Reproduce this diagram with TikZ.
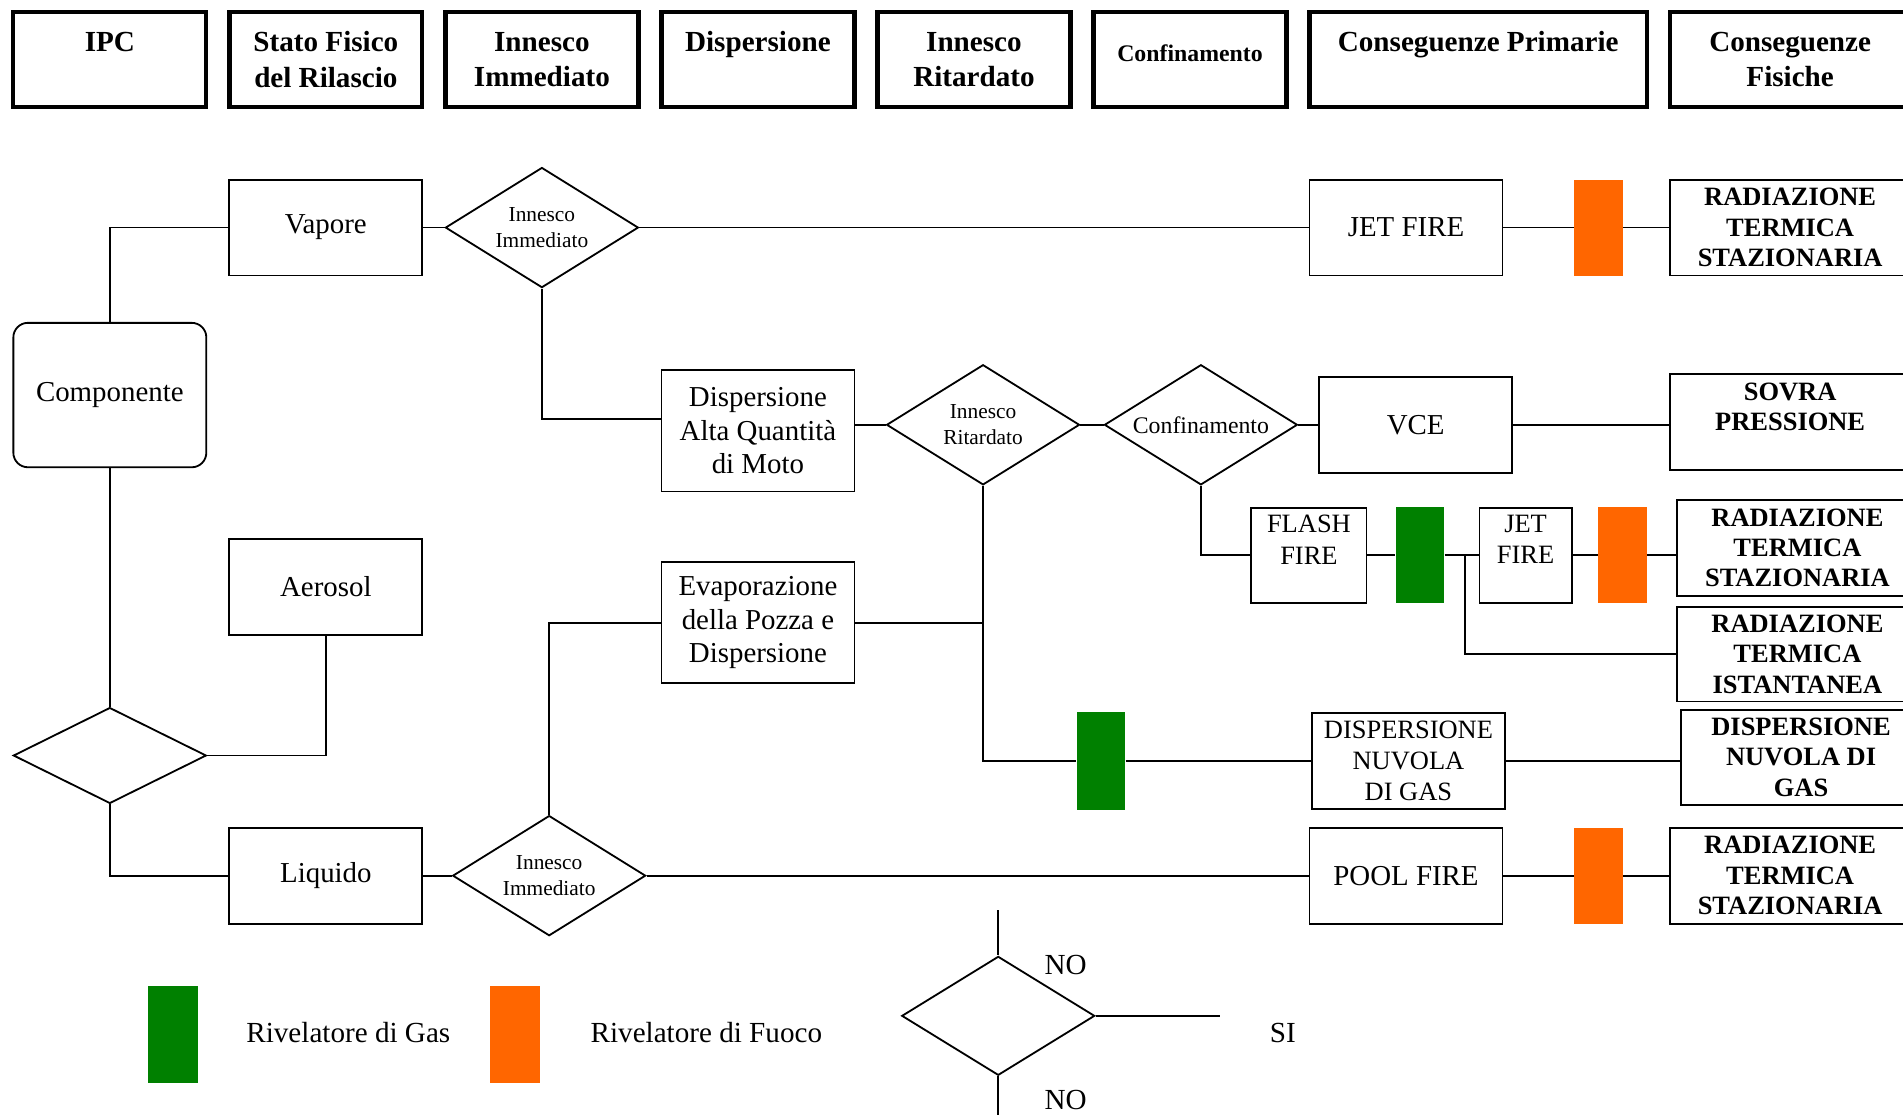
\documentclass[tikz,border=0pt]{standalone}
\usepackage{fontspec}
\setmainfont{Liberation Serif}
\usepackage{tikz}
\usetikzlibrary{positioning,shapes,arrows}

\definecolor{gasgreen}{RGB}{0,128,0}
\definecolor{fireorange}{RGB}{255,102,0}

\tikzset{
  hdr/.style={draw, line width=1.75pt, minimum width=79.5pt, minimum height=39pt, inner sep=0pt, align=center, font=\fontsize{12}{14.5}\selectfont\bfseries},
  blk/.style={draw, line width=0.75pt, minimum width=79.5pt, minimum height=39.5pt, inner sep=1pt, align=center, font=\fontsize{11.9}{13.75}\selectfont},
  sml/.style={blk, font=\fontsize{10.9}{12.8}\selectfont},
  csq/.style={draw, line width=0.75pt, minimum width=99pt, minimum height=39.5pt, inner sep=0pt, align=center, font=\fontsize{10.9}{12.5}\selectfont\bfseries},
  dec/.style={diamond, draw, line width=0.75pt, aspect=1.6, inner sep=0pt, minimum width=79.5pt, minimum height=49.5pt, align=center, font=\fontsize{8.8}{10.5}\selectfont},
  gasdet/.style={fill=gasgreen, minimum width=20pt, minimum height=39.5pt, inner sep=0pt},
  firedet/.style={fill=fireorange, minimum width=20pt, minimum height=39.5pt, inner sep=0pt},
  txt/.style={inner sep=0pt, font=\fontsize{12}{14}\selectfont},
  lnk/.style={line width=0.75pt}
}

\begin{document}
\begin{tikzpicture}[x=0.5pt, y=-0.5pt]
  \useasboundingbox (0,0) rectangle (1568,918);

  % intestazioni
  \node[hdr] (ipc) at (90.5,49) {IPC\\\mbox{}};
  \node[hdr] (stato) at (268.5,49) {Stato Fisico\\del Rilascio};
  \node[hdr] (immh) at (446.5,49) {Innesco\\Immediato};
  \node[hdr] (disph) at (624.5,49) {Dispersione\\\mbox{}};
  \node[hdr] (ritah) at (802.5,49) {Innesco\\Ritardato};
  \node[hdr, font=\fontsize{9.8}{11}\selectfont\bfseries, text depth=5pt] (confh) at (980.5,49) {Confinamento};
  \node[hdr, minimum width=139pt] (primh) at (1218,49) {Conseguenze Primarie\\\mbox{}};
  \node[hdr, minimum width=99pt] (fish) at (1475,49) {Conseguenze\\Fisiche};

  % albero
  \node[blk] (vap) at (268.5,187.5) {Vapore};
  \node[dec] (imm1) at (446.5,187.5) {Innesco\\Immediato};
  \node[blk] (jet1) at (1158.5,187.5) {JET FIRE};
  \node[firedet] (o1) at (1317,187.5) {};
  \node[csq] (rad1) at (1475,187.5) {RADIAZIONE\\TERMICA\\STAZIONARIA};

  \node[blk, rounded corners=6pt, minimum height=59.5pt] (comp) at (90.5,325.5) {Componente};
  \node[blk] (aer) at (268.5,483.5) {Aerosol};
  \node[dec, minimum height=39.5pt, aspect=2] (sel) at (90.5,622.5) {};
  \node[blk] (liq) at (268.5,721.5) {Liquido};
  \node[dec] (imm2) at (452.5,721.5) {Innesco\\Immediato};
  \node[blk] (pool) at (1158.5,721.5) {POOL FIRE};
  \node[firedet] (o3) at (1317,721.5) {};
  \node[csq] (rad4) at (1475,721.5) {RADIAZIONE\\TERMICA\\STAZIONARIA};

  \node[blk, minimum height=50pt] (disp) at (624.5,355) {Dispersione\\Alta Quantità\\di Moto};
  \node[dec] (rit) at (810,350) {Innesco\\Ritardato};
  \node[dec, font=\fontsize{9.8}{11}\selectfont] (conf) at (989.5,350) {Confinamento};
  \node[blk] (vce) at (1166.5,350) {VCE};
  \node[csq] (sovra) at (1475,347.5) {SOVRA\\PRESSIONE\\\mbox{}};

  \node[sml, minimum width=47.5pt, minimum height=39pt] (flash) at (1078.5,457.5) {FLASH\\FIRE\\\mbox{}};
  \node[gasdet] (g1) at (1170,457.5) {};
  \node[sml, minimum width=38pt, minimum height=39pt] (jet2) at (1257,457.5) {JET\\FIRE\\\mbox{}};
  \node[firedet] (o2) at (1337,457.5) {};
  \node[csq] (rad2) at (1481,451.5) {RADIAZIONE\\TERMICA\\STAZIONARIA};
  \node[csq, minimum height=39pt] (rad3) at (1481,539) {RADIAZIONE\\TERMICA\\ISTANTANEA};
  \coordinate (br) at (1207,457.5);

  \node[blk, minimum height=50pt] (evap) at (624.5,513) {Evaporazione\\della Pozza e\\Dispersione};
  \node[gasdet, minimum height=40pt] (g2) at (907,627) {};
  \node[sml] (nuv) at (1160.5,627) {DISPERSIONE\\NUVOLA\\DI GAS};
  \node[csq, minimum height=39pt] (nuvc) at (1484,624) {DISPERSIONE\\NUVOLA DI\\GAS};

  \draw[lnk] (vap.east) -- (imm1.west);
  \draw[lnk] (imm1.east) -- (jet1.west);
  \draw[lnk] (jet1.east) -- (o1.west);
  \draw[lnk] (o1.east) -- (rad1.west);
  \draw[lnk] (comp.north) |- (vap.west);
  \draw[lnk] (comp.south) -- (sel.north);
  \draw[lnk] (sel.east) -| (aer.south);
  \draw[lnk] (sel.south) |- (liq.west);
  \draw[lnk] (liq.east) -- (imm2.west);
  \draw[lnk] (imm2.east) -- (pool.west);
  \draw[lnk] (pool.east) -- (o3.west);
  \draw[lnk] (o3.east) -- (rad4.west);
  \draw[lnk] (imm1.south) |- ([yshift=5pt]disp.west);
  \draw[lnk] (disp.east |- rit.west) -- (rit.west);
  \draw[lnk] (rit.east) -- (conf.west);
  \draw[lnk] (conf.east) -- (vce.west);
  \draw[lnk] (vce.east) -- (vce.east -| sovra.west);
  \draw[lnk] (conf.south) |- (flash.west);
  \draw[lnk] (flash.east) -- (g1.west);
  \draw[lnk] (g1.east) -- (jet2.west);
  \draw[lnk] (jet2.east) -- (o2.west);
  \draw[lnk] (o2.east) -- (o2.east -| rad2.west);
  \draw[lnk] (br) |- (rad3.west);
  \draw[lnk] (rit.south) |- (g2.west);
  \draw[lnk] (g2.east) -- (nuv.west);
  \draw[lnk] (nuv.east) -- (nuv.east -| nuvc.west);
  \draw[lnk] (evap.east) -- (evap.east -| rit.south);
  \draw[lnk] (imm2.north) |- (evap.west);

  % legenda
  \node[gasdet, minimum width=20.5pt, minimum height=40pt] (lg) at (142.5,852) {};
  \node[txt] (lgtxt) at (287,851) {Rivelatore di Gas};
  \node[firedet, minimum width=20.5pt, minimum height=40pt] (lo) at (424.5,852) {};
  \node[txt] (lotxt) at (582,851) {Rivelatore di Fuoco};
  \node[dec, minimum height=49pt] (lgd) at (822.5,837) {};
  \coordinate (lgt) at (822.5,750);
  \coordinate (lgb) at (822.5,925);
  \coordinate (lgr) at (1005,837);
  \draw[lnk] (lgt) -- (lgd.north);
  \draw[lnk] (lgd.south) -- (lgb);
  \draw[lnk] (lgd.east) -- (lgr);
  \node[txt] (no1) at (878,795) {NO};
  \node[txt] (si) at (1057,851) {SI};
  \node[txt] (no2) at (878,906) {NO};
\end{tikzpicture}
\end{document}
